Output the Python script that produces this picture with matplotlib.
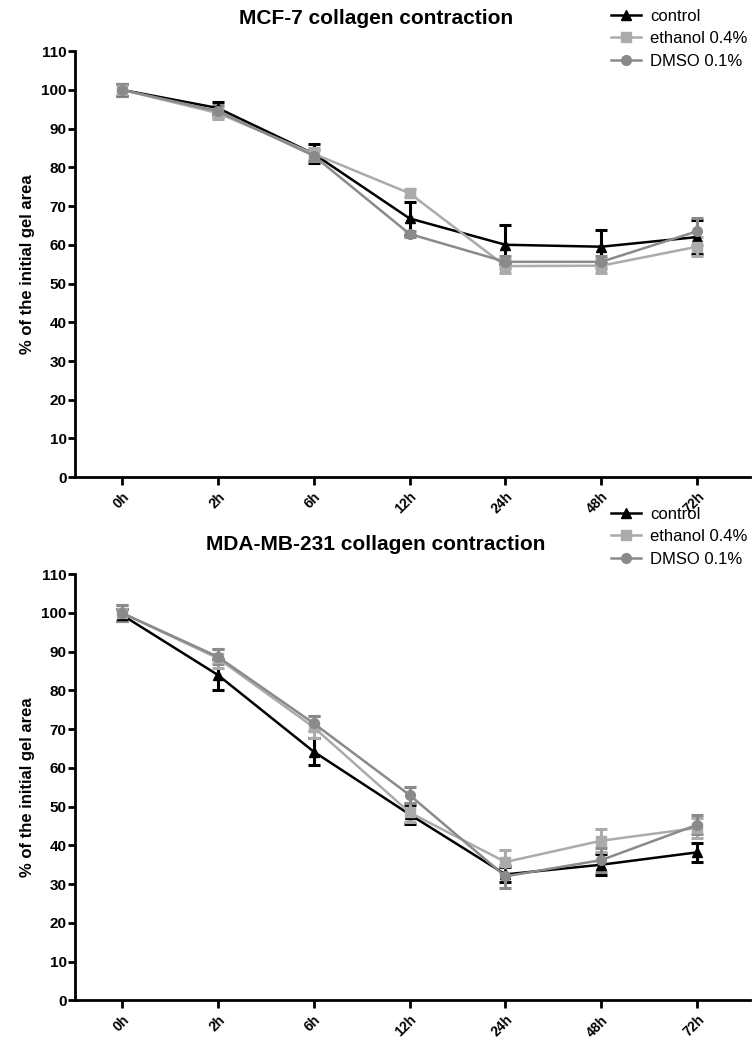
import numpy as np
import matplotlib
matplotlib.use("Agg")
import matplotlib.pyplot as plt
from matplotlib.lines import Line2D

plt.rcParams['font.family'] = ['Liberation Sans', 'DejaVu Sans']

times = ['0h', '2h', '6h', '12h', '24h', '48h', '72h']
series_names = ['control', 'ethanol 0.4%', 'DMSO 0.1%']

# MCF-7 (top panel)
mcf_control = [100, 95.3, 83.5, 66.8, 60.0, 59.5, 62.0]
mcf_control_err = [1.5, 1.5, 2.5, 4.2, 5.0, 4.3, 4.5]
mcf_ethanol = [100, 94.0, 83.5, 73.3, 54.5, 54.6, 59.5]
mcf_ethanol_err = [1.5, 1.5, 1.5, 1.0, 1.8, 1.8, 2.5]
mcf_dmso = [100, 94.5, 83.0, 62.8, 55.6, 55.6, 63.5]
mcf_dmso_err = [1.5, 1.5, 1.5, 0.8, 1.5, 1.5, 3.5]

# MDA-MB-231 (bottom panel)
mda_control = [99.5, 84.0, 64.2, 48.0, 32.5, 35.0, 38.2]
mda_control_err = [1.5, 4.0, 3.5, 2.5, 2.0, 2.7, 2.5]
mda_ethanol = [100, 88.3, 70.5, 48.5, 35.7, 41.2, 44.5]
mda_ethanol_err = [2.0, 2.5, 2.8, 2.5, 3.2, 3.0, 2.5]
mda_dmso = [100, 88.7, 71.5, 53.0, 32.0, 36.2, 45.3]
mda_dmso_err = [2.0, 2.0, 2.0, 2.0, 3.0, 3.0, 2.5]

colors = ['#000000', '#ababab', '#8a8a8a']
markers = ['^', 's', 'o']


def draw_panel(fig, rect, title, title_y, data, legend_top):
  ax = fig.add_axes(rect)
  x = np.arange(len(times))
  for (vals, errs), c, m in zip(data, colors, markers):
    ax.errorbar(x, vals, yerr=errs, color=c, marker=m, markersize=7,
                linewidth=1.8, elinewidth=2.2, capsize=4, capthick=2.2,
                markeredgecolor=c, zorder=3)
  ax.set_xlim(-0.49, 6.55)
  ax.set_ylim(0, 110)
  ax.set_yticks(np.arange(0, 111, 10))
  ax.set_xticks(x)
  ax.set_xticklabels(times, rotation=45, ha='right', rotation_mode='anchor',
                     fontweight='bold', fontsize=10)
  for lab in ax.get_yticklabels():
    lab.set_fontweight('bold')
    lab.set_fontsize(11)
  ax.spines['top'].set_visible(False)
  ax.spines['right'].set_visible(False)
  ax.spines['left'].set_linewidth(2)
  ax.spines['bottom'].set_linewidth(2)
  ax.tick_params(axis='y', width=2, length=5, direction='out', pad=1)
  ax.tick_params(axis='x', width=2, length=6, direction='out', pad=3)
  ax.set_ylabel('% of the initial gel area', fontsize=12, fontweight='bold', labelpad=4)
  fig.text(0.497, title_y, title, ha='center', va='center', fontsize=15, fontweight='bold')
  handles = [Line2D([0], [0], color=c, marker=m, markersize=7, linewidth=1.8)
             for c, m in zip(colors, markers)]
  fig.legend(handles, series_names, loc='upper left', bbox_to_anchor=(0.8, legend_top),
             frameon=False, fontsize=12, handlelength=1.8, labelspacing=0.45,
             handletextpad=0.5, borderaxespad=0)
  return ax


fig = plt.figure(figsize=(7.56, 10.42), dpi=100)

draw_panel(fig, [0.099, 0.542, 0.893, 0.409], 'MCF-7 collagen contraction', 0.982,
           [(mcf_control, mcf_control_err), (mcf_ethanol, mcf_ethanol_err),
            (mcf_dmso, mcf_dmso_err)], 0.998)
draw_panel(fig, [0.099, 0.040, 0.893, 0.409], 'MDA-MB-231 collagen contraction', 0.477,
           [(mda_control, mda_control_err), (mda_ethanol, mda_ethanol_err),
            (mda_dmso, mda_dmso_err)], 0.520)

plt.savefig('out.png', dpi=100)
